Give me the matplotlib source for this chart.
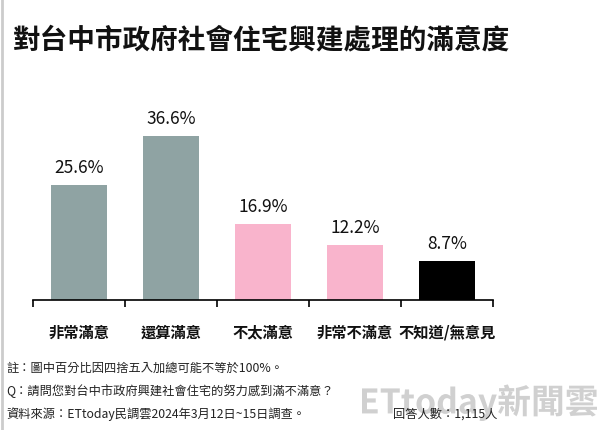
import matplotlib
matplotlib.use("Agg")
import matplotlib.pyplot as plt
from matplotlib.textpath import TextPath
from matplotlib.patches import PathPatch
from matplotlib.font_manager import FontProperties
from matplotlib.transforms import Affine2D

plt.rcParams['font.family'] = ['Noto Sans CJK TC', 'DejaVu Sans']

categories = ["非常滿意", "還算滿意", "不太滿意", "非常不滿意", "不知道/無意見"]
values = [25.6, 36.6, 16.9, 12.2, 8.7]
colors = ["#8fa3a3", "#8fa3a3", "#f9b4cc", "#f9b4cc", "#000000"]

title = "對台中市政府社會住宅興建處理的滿意度"
notes = ["註：圖中百分比因四捨五入加總可能不等於100%。",
         "Q：請問您對台中市政府興建社會住宅的努力感到滿不滿意？",
         "資料來源：ETtoday民調雲2024年3月12日~15日調查。"]
sample = "回答人數：1,115人"
watermark = "ETtoday新聞雲"

fig = plt.figure(figsize=(6, 4.31), dpi=100)
ax = fig.add_axes([33/600, 1-301/431, 460/600, 179/431])
x = list(range(len(categories)))
ax.bar(x, values, width=0.61, color=colors)
for xi, v in zip(x, values):
    ax.text(xi, v + 2.0, f"{v}%", ha='center', va='bottom', fontsize=12.5, color='#111111')
ax.set_xlim(-0.5, 4.5)
ax.set_ylim(0, 40)
for s in ['top', 'right', 'left']:
    ax.spines[s].set_visible(False)
ax.spines['bottom'].set_linewidth(1.2)
ax.set_yticks([])
ax.set_xticks([i - 0.5 for i in range(6)])
ax.set_xticklabels([])
ax.tick_params(axis='x', length=5, width=1.2, direction='out')
for xi, c in zip(x, categories):
    ax.text(xi, -5.3, c, ha='center', va='top', fontsize=11, fontweight='bold', color='#111111')

fig.text(13/600, 1-40/431, title, ha='left', va='center', fontsize=19.9, fontweight='bold', color='#111111')
for i, n in enumerate(notes):
    fig.text(6/600, 1-(368+23.3*i)/431, n, ha='left', va='center', fontsize=8.8, color='#222222')
fig.text(497/600, 1-414/431, sample, ha='right', va='center', fontsize=8.8, color='#222222')

# watermark logo drawn as a graphic path (pixel coordinates)
fp = FontProperties(family='Noto Sans CJK TC', weight='bold')
tp = TextPath((0, 0), watermark, size=22, prop=fp)
bb = tp.get_extents()
sc = 235 / bb.width
tr = Affine2D().translate(-bb.x0, -bb.y0).scale(sc, sc).translate(362, 431 - 422)
patch = PathPatch(tr.transform_path(tp), facecolor='#aaaaaa', edgecolor='none', alpha=0.55)
patch.set_transform(Affine2D())
fig.add_artist(patch)

fig.add_artist(plt.Line2D([1.5/600, 1.5/600], [0, 1], transform=fig.transFigure, color='#cccccc', lw=2))

fig.savefig("out.png", dpi=100)
